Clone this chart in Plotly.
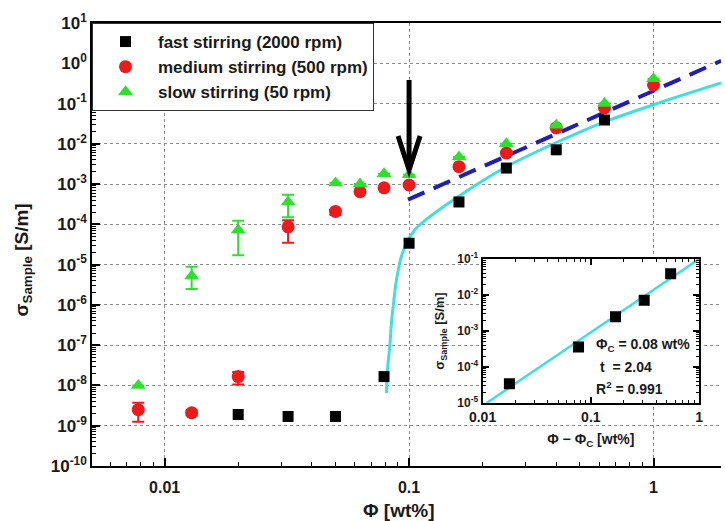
import plotly.graph_objects as go
import math

# ---------------- data ----------------
phi_fast = [0.020, 0.032, 0.050, 0.079, 0.10, 0.16, 0.25, 0.40, 0.63]
sig_fast = [1.9e-9, 1.7e-9, 1.7e-9, 1.66e-8, 3.4e-5, 3.6e-4, 2.5e-3, 7.1e-3, 3.9e-2]

phi_med = [0.0078, 0.0129, 0.020, 0.032, 0.050, 0.063, 0.079, 0.10, 0.16, 0.25, 0.40, 0.63, 1.0]
sig_med = [2.5e-9, 2.1e-9, 1.66e-8, 8.7e-5, 2.1e-4, 6.5e-4, 8.1e-4, 9.5e-4, 2.7e-3, 5.9e-3, 2.5e-2, 7.8e-2, 2.9e-1]
err_med_plus = [1.2e-9, 0.3e-9, 5e-9, 4e-5, 2e-5, 0, 0, 0, 0, 0, 0, 0, 0]
err_med_minus = [1.25e-9, 0.3e-9, 6e-9, 5.2e-5, 4e-5, 0, 0, 0, 0, 0, 0, 0, 0]

phi_slow = [0.0078, 0.0129, 0.020, 0.032, 0.050, 0.063, 0.079, 0.10, 0.16, 0.25, 0.40, 0.63, 1.0]
sig_slow = [1.0e-8, 5.2e-6, 7.2e-5, 3.6e-4, 1.07e-3, 1.0e-3, 1.8e-3, 1.7e-3, 4.7e-3, 1.0e-2, 2.9e-2, 1.0e-1, 4.1e-1]
err_slow_plus = [0, 3.7e-6, 5.1e-5, 1.8e-4, 0, 0, 0, 0, 0, 0, 0, 0, 0]
err_slow_minus = [0, 2.7e-6, 5.5e-5, 2.1e-4, 0, 0, 0, 0, 0, 0, 0, 0, 0]

# percolation fit curve
fit_phi = [0.0809, 0.0816, 0.0834, 0.0847, 0.0861, 0.0888, 0.0930, 0.0975, 0.1054,
           0.117, 0.158, 0.245, 0.396, 0.627, 1.0, 1.89]
fit_log_sig = [-8.19, -7.61, -7.03, -6.45, -6.04, -5.38, -4.80, -4.47, -4.14,
               -3.89, -3.32, -2.60, -1.98, -1.46, -1.03, -0.49]
fit_sig = [10 ** v for v in fit_log_sig]

# dashed line
dash_phi = [0.099, 1.89]
dash_sig = [4.1e-4, 1.15]

# inset: sigma vs (phi - phi_c)
inset_dphi = [0.0177, 0.077, 0.169, 0.311, 0.546]
inset_sig = [3.4e-5, 3.6e-4, 2.5e-3, 7.1e-3, 3.9e-2]
inset_fit_dphi = [0.0109, 1.0]
inset_fit_sig = [1e-5, 1e-1]

x_ticks = [0.01, 0.1, 1]
x_tick_text = ["0.01", "0.1", "1"]
y_exps = list(range(-10, 2))
inset_y_exps = list(range(-5, 0))

legend_names = ["fast stirring (2000 rpm)", "medium stirring (500 rpm)", "slow stirring (50 rpm)"]

# ---------------- styling ----------------
FONT = "Arial"
TXT = "#1a1a1a"
CYAN = "#3fe0dc"
BLUE = "#1f1fb4"
RED = "#ee1a1a"
GREEN = "#2ee02e"
GRID = "#8c8c8c"

XMIN, XMAX = -2.297, 0.276
YMIN, YMAX = -10, 1

def bold(size):
    return dict(family=FONT, size=size, color=TXT, weight="bold")

fig = go.Figure()

fig.add_trace(go.Scatter(x=fit_phi, y=fit_sig, mode="lines", line=dict(color=CYAN, width=3, shape="spline"),
                         showlegend=False, hoverinfo="skip"))
fig.add_trace(go.Scatter(x=dash_phi, y=dash_sig, mode="lines", line=dict(color=BLUE, width=4, dash="18px,10px"),
                         showlegend=False, hoverinfo="skip"))

fig.add_trace(go.Scatter(x=phi_fast, y=sig_fast, mode="markers", name=legend_names[0],
                         marker=dict(symbol="square", size=11, color="black")))
fig.add_trace(go.Scatter(x=phi_med, y=sig_med, mode="markers", name=legend_names[1],
                         marker=dict(symbol="circle", size=13, color=RED),
                         error_y=dict(type="data", symmetric=False, array=err_med_plus, arrayminus=err_med_minus,
                                      color=RED, thickness=2, width=6)))
fig.add_trace(go.Scatter(x=phi_slow, y=sig_slow, mode="markers", name=legend_names[2],
                         marker=dict(symbol="triangle-up", size=13, color=GREEN),
                         error_y=dict(type="data", symmetric=False, array=err_slow_plus, arrayminus=err_slow_minus,
                                      color=GREEN, thickness=2, width=6)))

# inset
fig.add_trace(go.Scatter(x=inset_fit_dphi, y=inset_fit_sig, mode="lines", line=dict(color=CYAN, width=2.5),
                         xaxis="x2", yaxis="y2", showlegend=False, hoverinfo="skip"))
fig.add_trace(go.Scatter(x=inset_dphi, y=inset_sig, mode="markers", marker=dict(symbol="square", size=11, color="black"),
                         xaxis="x2", yaxis="y2", showlegend=False))

def minor_vals(e_lo, e_hi):
    return [k * 10 ** e for e in range(e_lo, e_hi) for k in range(2, 10)]

fig.update_layout(
    width=725, height=521, autosize=False,
    margin=dict(l=92, r=0, t=23, b=55),
    paper_bgcolor="white", plot_bgcolor="white",
    font=bold(16),
    xaxis=dict(type="log", range=[XMIN, XMAX], domain=[0, 1],
               tickvals=x_ticks, ticktext=x_tick_text, tickfont=bold(16), ticklabelstandoff=6,
               ticks="inside", ticklen=8, tickwidth=1.5, tickcolor="black",
               showline=True, linecolor="black", linewidth=1.5, mirror=True,
               showgrid=True, gridcolor=GRID, gridwidth=1.3, griddash="dot", zeroline=False,
               minor=dict(tickvals=minor_vals(-3, 1), ticks="inside", ticklen=4, tickwidth=1.2,
                          tickcolor="black", showgrid=False)),
    yaxis=dict(type="log", range=[YMIN, YMAX], domain=[0, 1],
               tickvals=[10 ** e for e in y_exps],
               ticktext=["10<sup>%d</sup>" % e for e in y_exps], tickfont=bold(17),
               ticks="inside", ticklen=8, tickwidth=1.5, tickcolor="black",
               showline=True, linecolor="black", linewidth=1.5, mirror=False,
               showgrid=True, gridcolor=GRID, gridwidth=1.3, griddash="dot", zeroline=False,
               minor=dict(tickvals=minor_vals(-10, 1), ticks="inside", ticklen=4, tickwidth=1.2,
                          tickcolor="black", showgrid=False)),
    xaxis2=dict(type="log", range=[-2, 0], domain=[0.6209, 0.9652], anchor="y2",
                tickvals=x_ticks, ticktext=x_tick_text, tickfont=bold(14),
                ticks="inside", ticklen=6, tickwidth=1.5, tickcolor="black",
                showline=True, linecolor="black", linewidth=2, mirror="allticks",
                showgrid=False, zeroline=False,
                minor=dict(tickvals=minor_vals(-2, 0), ticks="inside", ticklen=3, tickwidth=1, tickcolor="black"),
                title=dict(text="Φ − Φ<sub>C</sub> [wt%]", font=bold(14), standoff=10)),
    yaxis2=dict(type="log", range=[-5, -1], domain=[0.1422, 0.4673], anchor="x2",
                tickvals=[10 ** e for e in inset_y_exps],
                ticktext=["10<sup>%d</sup>" % e for e in inset_y_exps], tickfont=bold(12),
                ticks="inside", ticklen=6, tickwidth=1.5, tickcolor="black",
                showline=True, linecolor="black", linewidth=2, mirror="allticks",
                showgrid=False, zeroline=False,
                minor=dict(tickvals=minor_vals(-5, -1), ticks="inside", ticklen=3, tickwidth=1, tickcolor="black"),
                title=dict(text="σ<sub>Sample</sub> [S/m]", font=bold(13), standoff=10)),
    legend=dict(x=0, y=1, xanchor="left", yanchor="top", bgcolor="white",
                bordercolor="#333", borderwidth=1, font=bold(17), itemwidth=55,
                tracegroupgap=0),
    showlegend=True,
)

def px_x(p):
    return (p - 92) / 633.0

def px_y(p):
    return (466 - p) / 443.0

annotations = [
    dict(text="σ<sub>Sample</sub> [S/m]", x=px_x(23), y=px_y(260), xref="paper", yref="paper",
         xanchor="center", yanchor="middle", textangle=-90, showarrow=False, font=bold(19)),
    dict(text="Φ [wt%]", x=px_x(401), y=px_y(510), xref="paper", yref="paper",
         xanchor="center", yanchor="middle", showarrow=False, font=bold(19)),
    dict(text="Φ<sub>C</sub> = 0.08 wt%", x=px_x(597), y=px_y(345), xref="paper", yref="paper",
         xanchor="left", yanchor="middle", showarrow=False, font=bold(14)),
    dict(text="t  = 2.04", x=px_x(601), y=px_y(367), xref="paper", yref="paper",
         xanchor="left", yanchor="middle", showarrow=False, font=bold(14)),
    dict(text="R<sup>2</sup> = 0.991", x=px_x(597), y=px_y(388), xref="paper", yref="paper",
         xanchor="left", yanchor="middle", showarrow=False, font=bold(14)),
]
fig.update_layout(annotations=annotations)

# arrow pointing to phi = 0.1
ax_frac = (math.log10(0.1) - XMIN) / (XMAX - XMIN)
tip = px_y(172)
fig.add_shape(type="line", xref="paper", yref="paper", xsizemode="pixel", ysizemode="pixel",
              xanchor=ax_frac, yanchor=tip, x0=0, x1=0, y0=4, y1=92,
              line=dict(color="black", width=5), layer="above")
fig.add_shape(type="path", xref="paper", yref="paper", xsizemode="pixel", ysizemode="pixel",
              xanchor=ax_frac, yanchor=tip, path="M -11,36 L 0,2 L 11,36",
              line=dict(color="black", width=5), layer="above")

fig.write_html("out.html", config={"displayModeBar": False},
               post_script="document.body.style.margin='0';document.body.style.overflow='hidden';")
